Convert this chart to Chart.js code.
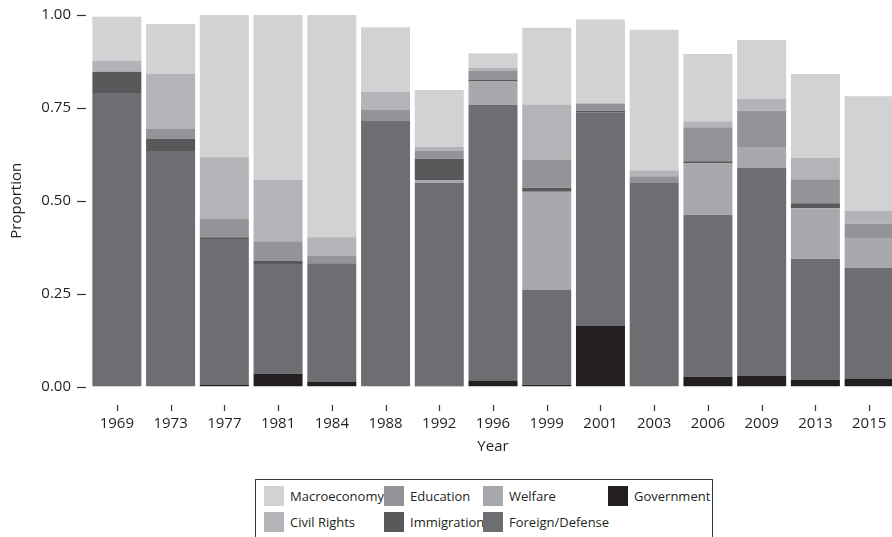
<!DOCTYPE html>
<html>
<head>
<meta charset="utf-8">
<script src="https://cdn.jsdelivr.net/npm/chart.js@4"></script>
<style>
  html, body { margin: 0; padding: 0; overflow: hidden; background: #fff; width: 892px; height: 537px; }
  #wrap { position: absolute; left: 0; top: 0; width: 896px; height: 475px; }
  #legend { position: absolute; left: 255px; top: 479px; width: 458px; height: 70px; border: 1px solid #3a3a3a; box-sizing: border-box; }
  .sw { position: absolute; width: 20px; height: 20px; }
  .lt { position: absolute; font-family: 'Open Sans', sans-serif; font-size: 13px; color: #231f20; line-height: 20px; white-space: nowrap; }
</style>
</head>
<body>
<div id="wrap"><canvas id="c" width="896" height="475"></canvas></div>
<div id="legend"></div>
<script>
const years = ['1969','1973','1977','1981','1984','1988','1992','1996','1999','2001','2003','2006','2009','2013','2015'];
// stacked bottom to top
const government  = [0, 0, 0.004, 0.034, 0.012, 0, 0.002, 0.016, 0.005, 0.163, 0, 0.026, 0.028, 0.018, 0.020];
const foreignDef  = [0.790, 0.634, 0.393, 0.296, 0.320, 0.715, 0.546, 0.742, 0.255, 0.575, 0.548, 0.436, 0.560, 0.325, 0.299];
const welfare     = [0, 0, 0, 0, 0, 0, 0.008, 0.063, 0.264, 0, 0, 0.138, 0.057, 0.137, 0.081];
const immigration = [0.057, 0.032, 0.005, 0.008, 0, 0, 0.057, 0.004, 0.011, 0.004, 0, 0.006, 0, 0.013, 0];
const education   = [0, 0.027, 0.050, 0.053, 0.019, 0.029, 0.021, 0.024, 0.076, 0.020, 0.018, 0.092, 0.097, 0.065, 0.038];
const civilRights = [0.030, 0.148, 0.165, 0.165, 0.051, 0.049, 0.011, 0.008, 0.148, 0, 0.016, 0.016, 0.032, 0.057, 0.035];
const macroecon   = [0.118, 0.135, 0.383, 0.444, 0.598, 0.174, 0.153, 0.040, 0.207, 0.226, 0.378, 0.181, 0.159, 0.226, 0.308];
const yTicks = [0, 0.25, 0.5, 0.75, 1];

const seriesNames = ['Government','Foreign/Defense','Welfare','Immigration','Education','Civil Rights','Macroeconomy'];
const seriesData  = [government, foreignDef, welfare, immigration, education, civilRights, macroecon];
const seriesColors = ['#231f20','#6d6e71','#a8a9ac','#58595b','#939498','#b3b4b7','#d1d2d4'];

const FONT = "'Open Sans', sans-serif";
const TXT = '#231f20';

const tickMarks = {
  id: 'tickMarks',
  afterDraw(chart) {
    const ctx = chart.ctx;
    const ys = chart.scales.y, xs = chart.scales.x;
    ctx.save();
    ctx.strokeStyle = '#333';
    ctx.lineWidth = 1.2;
    yTicks.forEach(v => {
      const y = Math.round(ys.getPixelForValue(v)) + 0.5;
      ctx.beginPath(); ctx.moveTo(77, y); ctx.lineTo(86, y); ctx.stroke();
    });
    years.forEach((_, i) => {
      const x = Math.round(xs.getPixelForValue(i)) + 0.5;
      ctx.beginPath(); ctx.moveTo(x, 405); ctx.lineTo(x, 411); ctx.stroke();
    });
    ctx.restore();
  }
};

new Chart(document.getElementById('c'), {
  type: 'bar',
  data: {
    labels: years,
    datasets: seriesNames.map((n, i) => ({
      label: n, data: seriesData[i], backgroundColor: seriesColors[i],
      borderWidth: 0, barPercentage: 0.912, categoryPercentage: 1.0
    }))
  },
  options: {
    responsive: false, animation: false,
    layout: { padding: { top: 15, left: 0, right: 0, bottom: 0 } },
    plugins: { legend: { display: false }, tooltip: { enabled: false } },
    scales: {
      x: {
        stacked: true,
        grid: { display: false, drawTicks: false },
        border: { display: false },
        ticks: { color: TXT, font: { family: FONT, size: 15 }, padding: 28, maxRotation: 0, autoSkip: false },
        title: { display: true, text: 'Year', color: TXT, font: { family: FONT, size: 15 }, padding: { top: 0, bottom: 19 } },
        afterFit(s) { s.height = 88.5; s.paddingLeft = 0; s.paddingRight = 0; }
      },
      y: {
        stacked: true, min: 0, max: 1,
        grid: { display: false, drawTicks: false },
        border: { display: false },
        afterBuildTicks(s) { s.ticks = yTicks.map(v => ({ value: v })); },
        ticks: { color: TXT, font: { family: FONT, size: 15 }, padding: 19, callback: v => Number(v).toFixed(2) },
        title: { display: true, text: 'Proportion', color: TXT, font: { family: FONT, size: 15 }, padding: { top: 7.5, bottom: 0 } },
        afterFit(s) { s.width = 90; s.paddingTop = 0; s.paddingBottom = 0; }
      }
    }
  },
  plugins: [tickMarks]
});

// HTML legend, order as in reference (column-major, 2 rows)
const legendOrder = ['Macroeconomy','Civil Rights','Education','Immigration','Welfare','Foreign/Defense','Government'];
const colX = [9, 129, 228, 353];
const rowY = [7, 33];
const lg = document.getElementById('legend');
legendOrder.forEach((name, k) => {
  const col = Math.floor(k / 2), row = k % 2;
  const idx = seriesNames.indexOf(name);
  const sw = document.createElement('div');
  sw.className = 'sw';
  sw.style.left = (colX[col] - 1) + 'px';
  sw.style.top = (rowY[row] - 1) + 'px';
  sw.style.background = seriesColors[idx];
  lg.appendChild(sw);
  const t = document.createElement('div');
  t.className = 'lt';
  t.style.left = (colX[col] + 25) + 'px';
  t.style.top = (rowY[row] - 1) + 'px';
  t.textContent = name;
  lg.appendChild(t);
});
</script>
</body>
</html>
